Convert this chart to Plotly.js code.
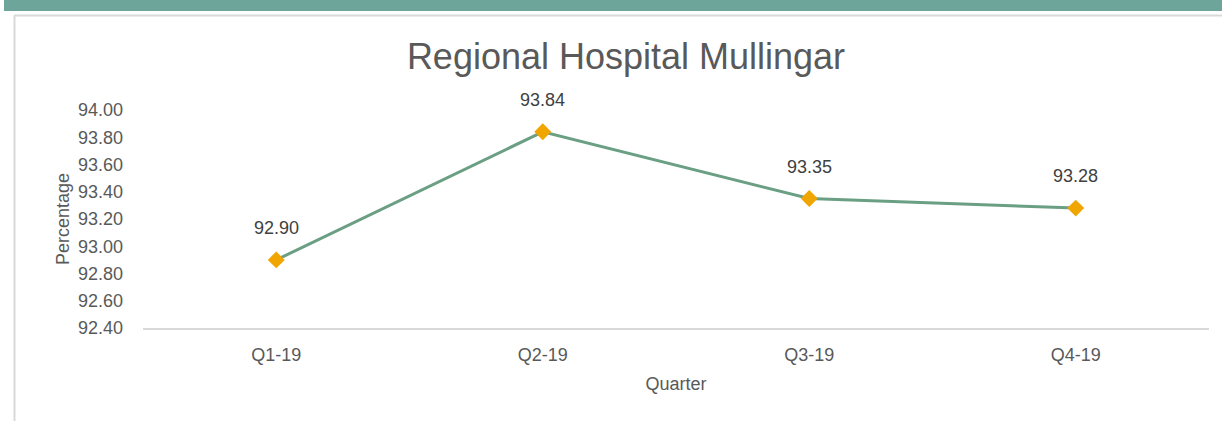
<!DOCTYPE html>
<html>
<head>
<meta charset="utf-8">
<script src="https://cdn.plot.ly/plotly-3.0.1.min.js"></script>
<style>
  html, body { margin: 0; padding: 0; background: #ffffff; }
  #chart { width: 1222px; height: 421px; }
</style>
</head>
<body>
<div id="chart"></div>
<script>
const quarters = ["Q1-19", "Q2-19", "Q3-19", "Q4-19"];
const percentages = [92.90, 93.84, 93.35, 93.28];
const yTickValues = [92.4, 92.6, 92.8, 93.0, 93.2, 93.4, 93.6, 93.8, 94.0];

const W = 1222, H = 421;
const M = { l: 143, r: 13, t: 110, b: 93 };
const pw = W - M.l - M.r, ph = H - M.t - M.b;
const px = v => (v - M.l) / pw;
const py = v => (H - M.b - v) / ph;

const sans = "Liberation Sans, Arial, sans-serif";

const trace = {
  x: quarters,
  y: percentages,
  type: "scatter",
  mode: "lines+markers",
  line: { color: "#6a9f83", width: 3 },
  marker: { symbol: "diamond", size: 13, color: "#f0a500", line: { width: 0 } },
  cliponaxis: false,
  hoverinfo: "x+y"
};

const labels = quarters.map((q, i) => ({
  x: q, y: percentages[i], xref: "x", yref: "y",
  text: percentages[i].toFixed(2),
  showarrow: false, yanchor: "middle", yshift: 32,
  font: { family: sans, size: 18, color: "#404040" }
}));

const layout = {
  width: W, height: H,
  margin: M,
  paper_bgcolor: "#ffffff",
  plot_bgcolor: "#ffffff",
  showlegend: false,
  title: {
    text: "Regional Hospital Mullingar",
    font: { family: sans, size: 36, color: "#595959" },
    xref: "container", x: 626 / W, xanchor: "center",
    yref: "container", y: 1 - 56 / H, yanchor: "middle"
  },
  xaxis: {
    type: "category",
    range: [-0.5, 3.5],
    showgrid: false,
    zeroline: false,
    showline: true,
    linecolor: "#d9d9d9",
    linewidth: 2,
    ticks: "",
    ticklabelstandoff: 9,
    tickfont: { family: sans, size: 18, color: "#595959" },
    title: { text: "Quarter", font: { family: sans, size: 18, color: "#595959" }, standoff: 14 }
  },
  yaxis: {
    range: [92.4, 94.0],
    tickvals: yTickValues,
    tickformat: ".2f",
    showgrid: false,
    zeroline: false,
    showline: false,
    ticks: "",
    ticklabelstandoff: 19,
    tickfont: { family: sans, size: 18, color: "#595959" },
    title: { text: "Percentage", font: { family: sans, size: 18, color: "#595959" }, standoff: 3 }
  },
  annotations: labels,
  shapes: [
    { type: "rect", xref: "paper", yref: "paper", x0: px(4), x1: px(W + 5), y0: py(11), y1: py(-5),
      fillcolor: "#6da59a", line: { width: 0 }, layer: "below" },
    { type: "line", xref: "paper", yref: "paper", x0: px(14), x1: px(W + 5), y0: py(15.5), y1: py(15.5),
      line: { color: "#d9d9d9", width: 2 } },
    { type: "line", xref: "paper", yref: "paper", x0: px(14.5), x1: px(14.5), y0: py(15.5), y1: py(H + 5),
      line: { color: "#d9d9d9", width: 2 } }
  ]
};

Plotly.newPlot("chart", [trace], layout, { displayModeBar: false, staticPlot: true });
</script>
</body>
</html>
